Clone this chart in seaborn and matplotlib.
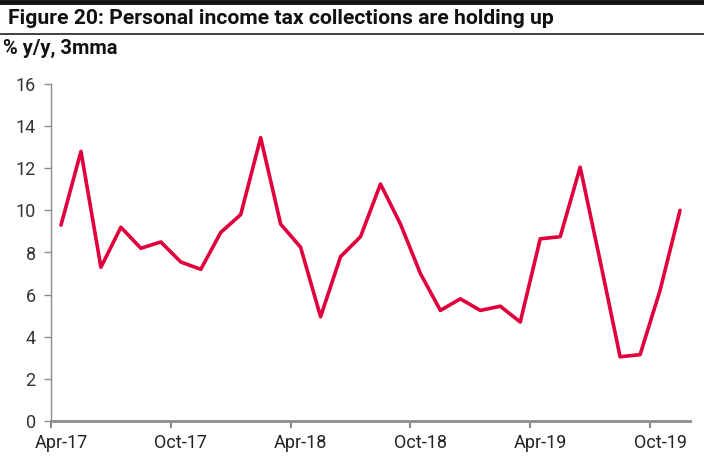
import matplotlib
matplotlib.use("Agg")
import matplotlib.pyplot as plt
import seaborn as sns
import pandas as pd
from matplotlib import font_manager as fm

months = ["Apr-17", "May-17", "Jun-17", "Jul-17", "Aug-17", "Sep-17",
          "Oct-17", "Nov-17", "Dec-17", "Jan-18", "Feb-18", "Mar-18",
          "Apr-18", "May-18", "Jun-18", "Jul-18", "Aug-18", "Sep-18",
          "Oct-18", "Nov-18", "Dec-18", "Jan-19", "Feb-19", "Mar-19",
          "Apr-19", "May-19", "Jun-19", "Jul-19", "Aug-19", "Sep-19",
          "Oct-19", "Nov-19"]
values = [9.3, 12.8, 7.3, 9.2, 8.2, 8.5,
          7.55, 7.2, 8.95, 9.8, 13.45, 9.35,
          8.25, 4.95, 7.8, 8.75, 11.25, 9.35,
          7.0, 5.25, 5.8, 5.25, 5.45, 4.7,
          8.65, 8.75, 12.05, 7.6, 3.05, 3.15,
          6.2, 10.0]
tick_labels = ["Apr-17", "Oct-17", "Apr-18", "Oct-18", "Apr-19", "Oct-19"]
yticks = [0, 2, 4, 6, 8, 10, 12, 14, 16]

title = "Figure 20: Personal income tax collections are holding up"
subtitle = "% y/y, 3mma"

sns.set_theme(style="white")
avail = {f.name for f in fm.fontManager.ttflist}
narrow = "Liberation Sans Narrow" if "Liberation Sans Narrow" in avail else "Roboto"
plt.rcParams["font.family"] = [narrow, "DejaVu Sans"]

df = pd.DataFrame({"idx": range(len(months)), "month": months, "value": values})

fig = plt.figure(figsize=(7.04, 4.73), dpi=100)
ax = fig.add_axes([51/704, 1 - 421/473, (690 - 51)/704, (421 - 84)/473])

line_color = "#E0003C"
sns.lineplot(data=df, x="idx", y="value", ax=ax, color=line_color, linewidth=2.6)

ax.set_xlim(-0.5, len(months) - 0.5)
ax.set_ylim(0, 16)
ax.set_yticks(yticks)
ax.set_yticklabels([str(v) for v in yticks])

label_pos = [months.index(m) for m in tick_labels]
ax.set_xticks([p - 0.5 for p in label_pos])
ax.set_xticklabels([])
ax.set_xticks(label_pos, minor=True)
ax.set_xticklabels(tick_labels, minor=True)
ax.tick_params(axis="x", which="major", length=5, width=1.5, color="#8c8c8c", direction="out", bottom=True)
ax.tick_params(axis="x", which="minor", length=0, labelsize=13, labelcolor="#222222", pad=9)
ax.tick_params(axis="y", length=5, width=1, color="#8c8c8c", labelsize=13, labelcolor="#333333", left=True, pad=6)

ax.set_xlabel("")
ax.set_ylabel("")
for s in ["top", "right"]:
    ax.spines[s].set_visible(False)
ax.spines["left"].set_color("#8c8c8c")
ax.spines["left"].set_linewidth(1.0)
ax.spines["bottom"].set_color("#8c8c8c")
ax.spines["bottom"].set_linewidth(2.0)

# header rules
fig.add_artist(plt.Line2D([0, 1], [1 - 2/473, 1 - 2/473], color="#111111", linewidth=3.5, transform=fig.transFigure))
fig.add_artist(plt.Line2D([0, 1], [1 - 34.5/473, 1 - 34.5/473], color="#222222", linewidth=1.2, transform=fig.transFigure))

fig.text(8/704, 1 - 19/473, title, fontsize=15.2, fontweight="bold", color="#111111",
         va="center", ha="left", family=["Roboto", "DejaVu Sans"])
fig.text(3/704, 1 - 48/473, subtitle, fontsize=14.5, fontweight="bold", color="#111111",
         va="center", ha="left", family=["Roboto", "DejaVu Sans"])

fig.savefig("out.png", dpi=100)
